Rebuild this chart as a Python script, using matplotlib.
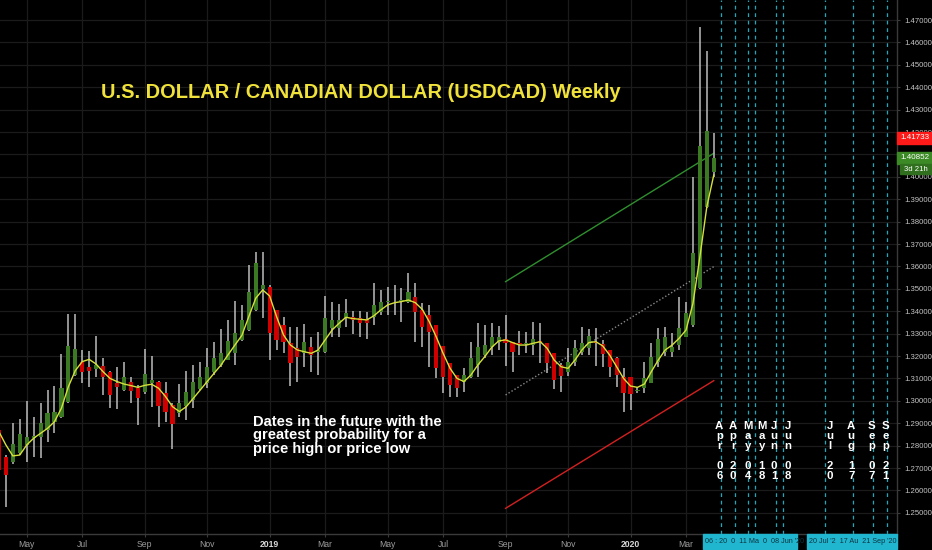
import matplotlib
matplotlib.use('Agg')
import matplotlib.pyplot as plt
import matplotlib.transforms as mtransforms
from matplotlib.patches import Rectangle
import pandas as pd

# ---------------- data ----------------
first_bar = '2018-04-09'
last_axis_week = '2020-09-28'

opens = [1.2870, 1.2751, 1.2728, 1.2766, 1.2803, 1.2835, 1.2840, 1.2870, 1.2907, 1.2929,
         1.2996, 1.3115, 1.3172, 1.3152, 1.3141, 1.3155, 1.3130, 1.3081, 1.3050, 1.3085,
         1.3056, 1.3041, 1.3080, 1.3086, 1.3033, 1.2981, 1.2944, 1.2978, 1.3004, 1.3053,
         1.3078, 1.3130, 1.3160, 1.3182, 1.3212, 1.3272, 1.3316, 1.3405, 1.3500, 1.3510,
         1.3405, 1.3339, 1.3260, 1.3234, 1.3212, 1.3242, 1.3218, 1.3219, 1.3324, 1.3324,
         1.3368, 1.3373, 1.3368, 1.3364, 1.3376, 1.3398, 1.3440, 1.3443, 1.3446, 1.3443,
         1.3462, 1.3405, 1.3383, 1.3339, 1.3245, 1.3167, 1.3115, 1.3086, 1.3108, 1.3160,
         1.3205, 1.3242, 1.3264, 1.3275, 1.3264, 1.3257, 1.3253, 1.3249, 1.3265, 1.3260,
         1.3215, 1.3160, 1.3130, 1.3175, 1.3219, 1.3234, 1.3260, 1.3252, 1.3227, 1.3190,
         1.3108, 1.3108, 1.3045, 1.3056, 1.3078, 1.3175, 1.3220, 1.3220, 1.3249, 1.3286,
         1.3338, 1.3502, 1.3867, 1.4023]
highs = [1.2885, 1.2760, 1.2903, 1.2919, 1.2998, 1.2929, 1.2990, 1.3048, 1.3068, 1.3209,
         1.3388, 1.3388, 1.3227, 1.3222, 1.3291, 1.3193, 1.3135, 1.3152, 1.3175, 1.3108,
         1.3070, 1.3230, 1.3200, 1.3090, 1.3086, 1.2990, 1.3075, 1.3135, 1.3161, 1.3172,
         1.3234, 1.3264, 1.3319, 1.3361, 1.3446, 1.3428, 1.3606, 1.3663, 1.3665, 1.3515,
         1.3405, 1.3376, 1.3331, 1.3331, 1.3342, 1.3283, 1.3306, 1.3468, 1.3443, 1.3431,
         1.3453, 1.3402, 1.3402, 1.3398, 1.3525, 1.3495, 1.3510, 1.3517, 1.3502, 1.3569,
         1.3525, 1.3435, 1.3428, 1.3339, 1.3245, 1.3167, 1.3115, 1.3145, 1.3264, 1.3346,
         1.3339, 1.3346, 1.3334, 1.3383, 1.3264, 1.3312, 1.3309, 1.3350, 1.3346, 1.3260,
         1.3215, 1.3167, 1.3234, 1.3272, 1.3328, 1.3319, 1.3324, 1.3271, 1.3227, 1.3195,
         1.3145, 1.3108, 1.3063, 1.3175, 1.3257, 1.3324, 1.3331, 1.3301, 1.3465, 1.3443,
         1.3998, 1.4667, 1.4563, 1.4194]
lows = [1.2542, 1.2528, 1.2720, 1.2760, 1.2728, 1.2751, 1.2743, 1.2818, 1.2858, 1.2925,
        1.2990, 1.3110, 1.3078, 1.3063, 1.3108, 1.3026, 1.2970, 1.2962, 1.3045, 1.2989,
        1.2892, 1.3030, 1.2974, 1.2885, 1.2907, 1.2783, 1.2929, 1.2914, 1.2970, 1.3048,
        1.3056, 1.3115, 1.3152, 1.3180, 1.3160, 1.3265, 1.3310, 1.3400, 1.3370, 1.3182,
        1.3227, 1.3212, 1.3068, 1.3086, 1.3152, 1.3130, 1.3115, 1.3215, 1.3286, 1.3286,
        1.3328, 1.3298, 1.3286, 1.3275, 1.3339, 1.3383, 1.3383, 1.3383, 1.3353, 1.3435,
        1.3264, 1.3242, 1.3152, 1.3100, 1.3033, 1.3019, 1.3016, 1.3041, 1.3100, 1.3108,
        1.3190, 1.3205, 1.3227, 1.3155, 1.3130, 1.3205, 1.3212, 1.3205, 1.3167, 1.3125,
        1.3051, 1.3041, 1.3111, 1.3155, 1.3205, 1.3205, 1.3155, 1.3152, 1.3108, 1.3063,
        1.2951, 1.2959, 1.3033, 1.3033, 1.3078, 1.3152, 1.3200, 1.3197, 1.3227, 1.3286,
        1.3330, 1.3500, 1.3860, 1.4001]
closes = [1.2691, 1.2669, 1.2807, 1.2850, 1.2840, 1.2845, 1.2900, 1.2947, 1.2949, 1.3059,
          1.3245, 1.3231, 1.3130, 1.3133, 1.3160, 1.3108, 1.3026, 1.3063, 1.3108, 1.3045,
          1.3011, 1.3118, 1.3093, 1.2978, 1.2952, 1.2897, 1.2989, 1.3041, 1.3085, 1.3108,
          1.3152, 1.3190, 1.3212, 1.3269, 1.3304, 1.3361, 1.3487, 1.3614, 1.3515, 1.3301,
          1.3272, 1.3264, 1.3167, 1.3197, 1.3264, 1.3205, 1.3225, 1.3368, 1.3361, 1.3361,
          1.3391, 1.3361, 1.3346, 1.3349, 1.3428, 1.3443, 1.3446, 1.3440, 1.3449, 1.3487,
          1.3398, 1.3331, 1.3309, 1.3145, 1.3108, 1.3071, 1.3056, 1.3115, 1.3190, 1.3239,
          1.3249, 1.3286, 1.3286, 1.3260, 1.3219, 1.3255, 1.3254, 1.3275, 1.3264, 1.3170,
          1.3093, 1.3111, 1.3175, 1.3234, 1.3257, 1.3289, 1.3258, 1.3209, 1.3152, 1.3115,
          1.3033, 1.3030, 1.3050, 1.3103, 1.3197, 1.3274, 1.3283, 1.3240, 1.3324, 1.3390,
          1.3661, 1.4137, 1.4206, 1.4085]
ma_line = [1.2862, 1.2803, 1.2754, 1.2758, 1.2803, 1.2833, 1.2855, 1.2877, 1.2907, 1.2967,
           1.3063, 1.3135, 1.3175, 1.3185, 1.3164, 1.3130, 1.3100, 1.3086, 1.3075, 1.3068,
           1.3060, 1.3069, 1.3074, 1.3056, 1.3019, 1.2974, 1.2952, 1.2974, 1.3011, 1.3048,
           1.3086, 1.3123, 1.3160, 1.3205, 1.3249, 1.3292, 1.3376, 1.3458, 1.3495, 1.3468,
           1.3376, 1.3294, 1.3249, 1.3227, 1.3219, 1.3212, 1.3227, 1.3272, 1.3316, 1.3346,
           1.3373, 1.3367, 1.3364, 1.3361, 1.3379, 1.3405, 1.3428, 1.3438, 1.3443, 1.3450,
           1.3438, 1.3408, 1.3353, 1.3286, 1.3212, 1.3145, 1.3100, 1.3086, 1.3115, 1.3160,
           1.3197, 1.3239, 1.3267, 1.3272, 1.3260, 1.3249, 1.3249, 1.3257, 1.3264, 1.3234,
           1.3182, 1.3152, 1.3145, 1.3182, 1.3227, 1.3260, 1.3264, 1.3245, 1.3204, 1.3152,
           1.3100, 1.3066, 1.3060, 1.3075, 1.3130, 1.3182, 1.3227, 1.3249, 1.3279, 1.3316,
           1.3435, 1.3643, 1.3867, 1.4008]

month_tick_dates = ['2018-05-07', '2018-07-02', '2018-09-03', '2018-11-05', '2019-01-07',
                    '2019-03-04', '2019-05-06', '2019-07-01', '2019-09-02', '2019-11-04',
                    '2020-01-06', '2020-03-02']
month_tick_labels = ['May', 'Jul', 'Sep', 'Nov', '2019', 'Mar', 'May', 'Jul', 'Sep', 'Nov',
                     '2020', 'Mar']

future_line_dates = ['2020-04-06', '2020-04-20', '2020-05-04', '2020-05-11', '2020-06-01',
                     '2020-06-08', '2020-07-20', '2020-08-17', '2020-09-07', '2020-09-21']
future_text_dates = ['2020-04-06', '2020-04-20', '2020-05-04', '2020-05-18', '2020-06-01',
                     '2020-06-08', '2020-07-20', '2020-08-17', '2020-09-07', '2020-09-21']
future_text_labels = ['Apr 06', 'Apr 20', 'May 04', 'May 18', 'Jun 01', 'Jun 08',
                      'Jul 20', 'Aug 17', 'Sep 07', 'Sep 21']
future_text_nudge = [-0.2, -0.2, -0.1, -0.1, -0.3, 0.7, 0.7, -0.2, -0.3, -0.2]
future_box_texts = ["06 : 20  0  11 Ma  0  08 Jun '20", "20 Jul '2  17 Au  21 Sep '20"]

# channel lines: (start date, start price, end date, end price)
upper_line = ['2019-09-02', 1.3532, '2020-03-30', 1.4105]
mid_line = ['2019-09-02', 1.3026, '2020-03-30', 1.3599]
lower_line = ['2019-09-02', 1.2520, '2020-03-30', 1.3090]

price_ticks = [1.25, 1.26, 1.27, 1.28, 1.29, 1.30, 1.31, 1.32, 1.33, 1.34, 1.35, 1.36,
               1.37, 1.38, 1.39, 1.40, 1.41, 1.42, 1.43, 1.44, 1.45, 1.46, 1.47]
hidden_tick = 1.41  # covered by the price labels in the original
red_label_price = 1.41733
last_price = 1.40852
countdown = '3d 21h'

# ---------------- helpers ----------------
weeks = pd.date_range(first_bar, last_axis_week, freq='W-MON')
def pos(d):
    return weeks.get_loc(pd.Timestamp(d))

FONT = 'Liberation Sans'
BG = '#000000'
GRID = '#1b1b1b'
GREEN = '#3b7a22'
RED = '#d00000'
WICK = '#bdbdbd'

fig = plt.figure(figsize=(9.32, 5.5), dpi=100, facecolor=BG)
ax = fig.add_axes([0, 16 / 550, 897 / 932, 534 / 550])
ax.set_facecolor(BG)

ylo, yhi = 1.24054, 1.47893
ax.set_ylim(ylo, yhi)
ax.set_xlim(0.15, 129.4)

def ypix(y_px):
    # convert a pixel row (from top of axes) to price
    return yhi - (y_px) * (yhi - ylo) / 534.0

# grid
for t in price_ticks:
    ax.axhline(t, color=GRID, lw=0.9, zorder=0)
for d in month_tick_dates:
    ax.axvline(pos(d), color=GRID, lw=0.9, zorder=0)

# candles
n = len(closes)
xs = list(range(n))
ax.vlines(xs, lows, highs, color=WICK, lw=1.1, zorder=2)
for i in xs:
    o, c = opens[i], closes[i]
    col = GREEN if c >= o else RED
    bottom = min(o, c)
    h = max(abs(c - o), 0.0003)
    ax.bar(i, h, bottom=bottom, width=0.6, color=col, edgecolor='none', zorder=3)

# moving average
ax.plot(xs, ma_line, color='#d6e13c', lw=1.0, zorder=4)

# channel lines
for ln, col, ls in [(upper_line, '#2f8f2f', '-'), (mid_line, '#8a8a8a', (0, (1, 1.5))),
                    (lower_line, '#d42020', '-')]:
    ax.plot([pos(ln[0]), pos(ln[2])], [ln[1], ln[3]], color=col, lw=1.0, ls=ls, zorder=1)

# future dashed lines
for d in future_line_dates:
    ax.axvline(pos(d), color='#1fa8bb', lw=0.9, ls=(0, (3, 3)), zorder=1)

# vertical stacked text for future dates
for d, lab, nud in zip(future_text_dates, future_text_labels, future_text_nudge):
    mon, day = lab.split(' ')
    chars = list(mon) + [''] + list(day)
    for k, ch in enumerate(chars):
        if ch == '':
            continue
        ax.text(pos(d) + nud, ypix(426 + 9.9 * k), ch, color='white', fontsize=8.2,
                fontweight='bold', family=FONT, ha='center', va='center', zorder=6)

# title
ax.text(pos('2019-04-15') - 0.9, ypix(93), 'U.S. DOLLAR / CANADIAN DOLLAR (USDCAD) Weekly',
        color='#f0e23a', fontsize=14.4, fontweight='bold', family=FONT,
        ha='center', va='center', zorder=6)

# note
ax.text(pos('2018-12-24') - 0.35, ypix(415),
        'Dates in the future with the\ngreatest probability for a\nprice high or price low',
        color='white', fontsize=10.6, fontweight='bold', family=FONT, ha='left', va='top',
        linespacing=0.95, zorder=6)

# axes styling
for s in ['top', 'left']:
    ax.spines[s].set_visible(False)
for s in ['right', 'bottom']:
    ax.spines[s].set_color('#3a3a3a')
    ax.spines[s].set_linewidth(1.0)

ax.yaxis.tick_right()
ax.set_yticks(price_ticks)
ax.set_yticklabels(['' if abs(t - hidden_tick) < 1e-9 else '%.5f' % t for t in price_ticks])
ax.tick_params(axis='y', colors='#3a3a3a', labelcolor='#c4c4c4', labelsize=5.6,
               length=2.5, pad=2.5)
for lbl in ax.get_yticklabels():
    lbl.set_family(FONT)

ax.set_xticks([pos(d) for d in month_tick_dates])
ax.set_xticklabels(month_tick_labels)
ax.tick_params(axis='x', colors='#3a3a3a', labelcolor='#9c9c9c', labelsize=6.2,
               length=2, pad=2)
for lbl in ax.get_xticklabels():
    lbl.set_family(FONT)
    if lbl.get_text() in ('2019', '2020'):
        lbl.set_color('#d8d8d8')
        lbl.set_fontweight('bold')

# right price labels (boxes drawn over the tick labels)
trans = mtransforms.blended_transform_factory(ax.transAxes, ax.transData)
ax.add_patch(Rectangle((1.0, red_label_price - 0.0028), 35 / 897, 0.0056, transform=trans,
                       color='#ff1a1a', zorder=8, clip_on=False))
ax.text(1.0 + 17.5 / 897, red_label_price, '%.5f' % red_label_price, transform=trans,
        color='white', fontsize=5.8, family=FONT, ha='center', va='center', zorder=9,
        clip_on=False)
ax.add_patch(Rectangle((1.0, last_price - 0.0027), 35 / 897, 0.0054, transform=trans,
                       color='#3c8a26', zorder=8, clip_on=False))
ax.text(1.0 + 17.5 / 897, last_price, '%.5f' % last_price, transform=trans,
        color='white', fontsize=5.8, family=FONT, ha='center', va='center', zorder=9,
        clip_on=False)
ax.add_patch(Rectangle((3 / 897 + 1.0, last_price - 0.0074), 31 / 897, 0.0044,
                       transform=trans, color='#2f6f1d', zorder=8, clip_on=False))
ax.text(1.0 + 18.5 / 897, last_price - 0.0052, countdown, transform=trans,
        color='white', fontsize=5.6, family=FONT, ha='center', va='center', zorder=9,
        clip_on=False)

# bottom cyan date boxes
fig.patches.append(Rectangle((702.7 / 932, 1.5 / 550), 94.6 / 932, 14.5 / 550,
                             transform=fig.transFigure, color='#21b6cf', zorder=5))
fig.patches.append(Rectangle((806.7 / 932, 1.5 / 550), 90.6 / 932, 14.5 / 550,
                             transform=fig.transFigure, color='#21b6cf', zorder=5))
fig.text(705 / 932, 8.5 / 550, future_box_texts[0], color='#0c3440',
         fontsize=5.2, family=FONT, ha='left', va='center', zorder=7)
fig.text(809 / 932, 8.5 / 550, future_box_texts[1], color='#0c3440',
         fontsize=5.2, family=FONT, ha='left', va='center', zorder=7)

fig.savefig('out.png', dpi=100, facecolor=BG)
